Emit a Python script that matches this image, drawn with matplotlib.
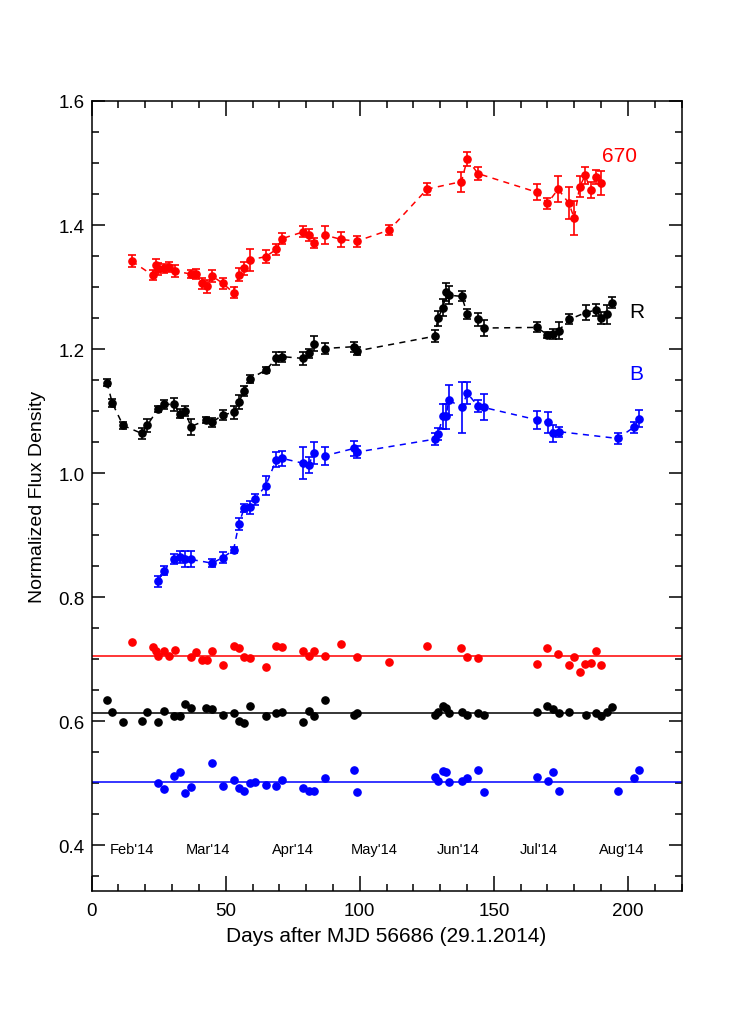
import numpy as np
import matplotlib
matplotlib.use("Agg")
import matplotlib.pyplot as plt
from matplotlib.ticker import MultipleLocator, FormatStrFormatter

plt.rcParams['font.family'] = ['Liberation Sans', 'DejaVu Sans']

# 670 band
day_670 = [14.9, 22.8, 24.0, 24.8, 26.8, 28.8, 31.0, 37.0, 39.0, 41.0, 43.0, 44.9,
           48.9, 52.9, 54.9, 56.9, 58.9, 64.9, 68.9, 70.9, 78.9, 80.9, 82.9, 86.9,
           92.9, 98.9, 111.0, 125.1, 137.9, 140.1, 144.1, 166.0, 170.0, 174.0,
           178.0, 180.0, 182.0, 184.1, 186.1, 188.1, 190.1]
flux_670 = [1.342, 1.319, 1.336, 1.329, 1.330, 1.332, 1.326, 1.321, 1.321, 1.306, 1.301,
            1.318, 1.306, 1.291, 1.320, 1.330, 1.344, 1.349, 1.361, 1.378, 1.389, 1.384,
            1.371, 1.384, 1.377, 1.374, 1.392, 1.458, 1.470, 1.506, 1.483, 1.453, 1.435,
            1.458, 1.435, 1.411, 1.462, 1.480, 1.456, 1.477, 1.468]
err_670 = [0.010, 0.008, 0.010, 0.010, 0.008, 0.008, 0.010, 0.007, 0.008, 0.009, 0.010,
           0.009, 0.009, 0.009, 0.010, 0.010, 0.018, 0.010, 0.009, 0.009, 0.009, 0.009,
           0.008, 0.014, 0.012, 0.009, 0.008, 0.010, 0.016, 0.011, 0.011, 0.013, 0.009,
           0.021, 0.026, 0.027, 0.017, 0.014, 0.013, 0.011, 0.019]
res_670 = [0.728, 0.720, 0.713, 0.705, 0.713, 0.706, 0.715, 0.704, 0.711, 0.699, 0.699,
           0.713, 0.690, 0.721, 0.718, 0.704, 0.702, 0.688, 0.722, 0.720, 0.713, 0.706,
           0.713, 0.706, 0.725, 0.703, 0.695, 0.721, 0.718, 0.704, 0.702, 0.692, 0.718,
           0.709, 0.690, 0.704, 0.680, 0.693, 0.694, 0.713, 0.690]

# R band
day_R = [5.7, 7.7, 11.7, 18.7, 20.7, 24.8, 26.8, 30.8, 32.8, 34.8, 37.0, 42.8, 44.9,
         48.9, 52.9, 54.9, 56.9, 58.9, 64.9, 68.9, 70.9, 78.9, 80.9, 82.9, 86.9, 97.9,
         98.9, 128.1, 129.1, 131.1, 132.2, 133.2, 138.0, 140.1, 144.1, 146.2, 166.1,
         170.0, 172.2, 174.2, 178.2, 184.3, 188.1, 190.1, 192.1, 194.1]
flux_R = [1.146, 1.113, 1.077, 1.064, 1.077, 1.104, 1.111, 1.111, 1.096, 1.100, 1.075,
          1.086, 1.082, 1.094, 1.098, 1.115, 1.133, 1.152, 1.166, 1.185, 1.188, 1.185,
          1.193, 1.209, 1.201, 1.204, 1.197, 1.221, 1.250, 1.267, 1.292, 1.287, 1.285,
          1.257, 1.248, 1.234, 1.235, 1.223, 1.225, 1.230, 1.248, 1.259, 1.263, 1.250,
          1.256, 1.275]
err_R = [0.006, 0.006, 0.005, 0.009, 0.010, 0.005, 0.007, 0.011, 0.007, 0.008, 0.013,
         0.005, 0.007, 0.008, 0.011, 0.011, 0.008, 0.006, 0.005, 0.010, 0.008, 0.010,
         0.008, 0.012, 0.009, 0.008, 0.006, 0.010, 0.012, 0.014, 0.014, 0.014, 0.008,
         0.008, 0.011, 0.013, 0.008, 0.005, 0.008, 0.013, 0.008, 0.012, 0.010, 0.010,
         0.015, 0.009]
res_R = [0.635, 0.615, 0.599, 0.600, 0.615, 0.599, 0.617, 0.609, 0.609, 0.628, 0.622,
         0.622, 0.620, 0.611, 0.613, 0.601, 0.598, 0.624, 0.608, 0.613, 0.615, 0.599,
         0.617, 0.609, 0.635, 0.610, 0.614, 0.610, 0.615, 0.624, 0.621, 0.614, 0.615,
         0.610, 0.614, 0.610, 0.615, 0.624, 0.620, 0.614, 0.615, 0.610, 0.614, 0.609,
         0.615, 0.623]

# B band
day_B = [24.8, 26.8, 30.8, 32.8, 34.9, 37.0, 44.9, 48.9, 52.9, 54.9, 56.9, 58.9, 60.9,
         64.9, 68.9, 70.9, 78.9, 80.9, 82.9, 86.9, 97.9, 98.9, 128.1, 129.1, 131.1,
         132.2, 133.2, 138.0, 140.1, 144.1, 146.2, 166.1, 170.1, 172.2, 174.2, 196.2,
         202.2, 204.2]
flux_B = [0.826, 0.843, 0.861, 0.865, 0.861, 0.861, 0.855, 0.864, 0.876, 0.918, 0.944,
          0.945, 0.958, 0.980, 1.022, 1.024, 1.016, 1.013, 1.033, 1.028, 1.040, 1.034,
          1.055, 1.063, 1.092, 1.092, 1.118, 1.106, 1.129, 1.108, 1.106, 1.086, 1.082,
          1.064, 1.067, 1.056, 1.074, 1.088]
err_B = [0.009, 0.007, 0.008, 0.010, 0.013, 0.013, 0.007, 0.009, 0.005, 0.010, 0.007,
         0.010, 0.009, 0.015, 0.012, 0.012, 0.026, 0.013, 0.018, 0.015, 0.012, 0.010,
         0.010, 0.010, 0.020, 0.020, 0.024, 0.041, 0.018, 0.010, 0.021, 0.014, 0.017,
         0.013, 0.008, 0.009, 0.009, 0.014]
res_B = [0.501, 0.491, 0.512, 0.518, 0.485, 0.494, 0.533, 0.496, 0.506, 0.492, 0.487,
         0.501, 0.502, 0.497, 0.496, 0.506, 0.492, 0.487, 0.487, 0.508, 0.522, 0.486,
         0.510, 0.503, 0.520, 0.518, 0.502, 0.503, 0.508, 0.522, 0.486, 0.510, 0.503,
         0.519, 0.487, 0.487, 0.508, 0.522]

# mean levels of the residual rows
level_670 = 0.706
level_R = 0.613
level_B = 0.502

months = ["Feb'14", "Mar'14", "Apr'14", "May'14", "Jun'14", "Jul'14", "Aug'14"]
month_pos = [15.2, 43.4, 75.0, 105.4, 136.7, 166.8, 197.6]

fig = plt.figure(figsize=(7.37, 10.2), dpi=100)
ax = fig.add_axes([0.1244, 0.1252, 0.8003, 0.7748])

bands = [
    (day_670, flux_670, err_670, res_670, level_670, '#ff0000'),
    (day_R, flux_R, err_R, res_R, level_R, '#000000'),
    (day_B, flux_B, err_B, res_B, level_B, '#0000ff'),
]
for d, f, e, r, lev, c in bands:
    ax.errorbar(d, f, yerr=e, fmt='o', color=c, ms=5.2, capsize=3,
                elinewidth=1.2, capthick=1.2, zorder=3)
    ax.plot(d, f, ls=(0, (4, 3.5)), color=c, lw=1.1, zorder=2)
    ax.plot(d, r, 'o', color=c, ms=5.2, zorder=3)
    ax.axhline(lev, color=c, lw=1.1, zorder=2)

ax.text(196.8, 1.512, '670', color='#ff0000', fontsize=15, ha='center', va='center')
ax.text(203.2, 1.260, 'R', color='#000000', fontsize=15, ha='center', va='center')
ax.text(203.0, 1.160, 'B', color='#0000ff', fontsize=15, ha='center', va='center')

for m, p in zip(months, month_pos):
    ax.text(p, 0.394, m, fontsize=10.5, ha='center', va='center')

ax.set_xlim(0, 220)
ax.set_ylim(0.326, 1.6)
ax.xaxis.set_major_locator(MultipleLocator(50))
ax.xaxis.set_minor_locator(MultipleLocator(10))
ax.yaxis.set_major_locator(MultipleLocator(0.2))
ax.yaxis.set_minor_locator(MultipleLocator(0.05))
ax.yaxis.set_major_formatter(FormatStrFormatter('%.1f'))

ax.tick_params(which='both', direction='in', top=True, right=True, width=1.1,
               labelsize=13.5)
ax.tick_params(axis='x', which='major', length=11, pad=8)
ax.tick_params(axis='y', which='major', length=9.5, pad=5)
ax.tick_params(which='minor', length=5)
for s in ax.spines.values():
    s.set_linewidth(1.1)

ax.set_xlabel('Days after MJD 56686 (29.1.2014)', fontsize=15, labelpad=5)
ax.set_ylabel('Normalized Flux Density', fontsize=14, labelpad=9)

fig.savefig('out.png', dpi=100)
